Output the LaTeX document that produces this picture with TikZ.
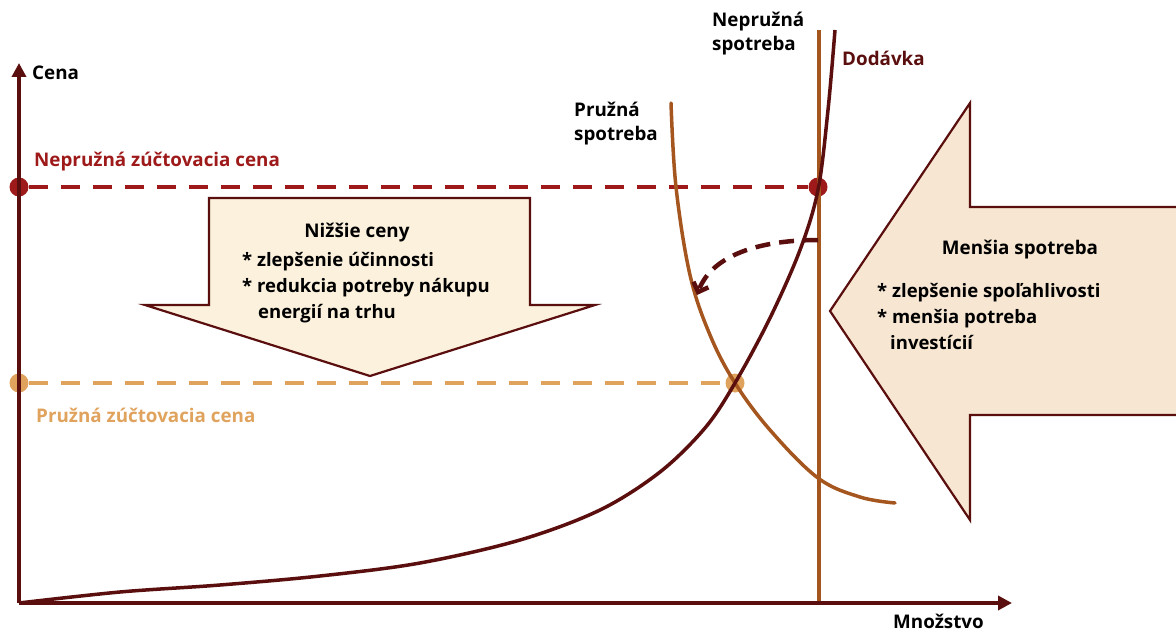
\documentclass[tikz,border=0pt]{standalone}
\usepackage{fontspec}
\setmainfont{Open Sans}
\usetikzlibrary{arrows.meta}
\definecolor{axiscol}{HTML}{5A0E0E}
\definecolor{redcol}{HTML}{9E1A1A}
\definecolor{lightor}{HTML}{E0A35E}
\definecolor{browncol}{HTML}{A5561E}
\definecolor{creamA}{HTML}{FBF1DC}
\definecolor{creamB}{HTML}{F6E6D2}
\tikzset{
  lbl/.style={font=\bfseries\fontsize{18.8}{24}\selectfont, inner sep=0pt},
  boxtxt/.style={font=\bfseries\fontsize{18.5}{26}\selectfont, inner sep=0pt, align=left},
  axisline/.style={draw=axiscol, line width=3.5pt, -{Triangle[length=14pt,width=14pt]}},
  dashline/.style={line width=4pt, dash pattern=on 19pt off 13pt},
  curve/.style={line width=3.5pt, line cap=round},
  dotnode/.style={circle, inner sep=0pt, minimum size=19pt},
  bigarrow/.style={draw=axiscol, line width=2.2pt, line join=miter}
}
\begin{document}
\begin{tikzpicture}[x=1pt,y=-1pt]
\useasboundingbox (0,0) rectangle (1176,634);
% big arrows
\draw[bigarrow, fill=creamA] (209,198) -- (530,198) -- (530,305) -- (595,305) -- (370,376) -- (145,305) -- (209,305) -- cycle;
\fill[creamB] (1180,207) -- (970,207) -- (970,103) -- (830,311) -- (970,520) -- (970,415) -- (1180,415) -- cycle;
\draw[bigarrow] (1180,207) -- (970,207) -- (970,103) -- (830,311) -- (970,520) -- (970,415) -- (1180,415);
% coordinates
\coordinate (O) at (19,603);
\coordinate (ytip) at (19,63);
\coordinate (xtip) at (1012,603);
% dashed lines
\node[dotnode, fill=redcol] (d1) at (19,187) {};
\node[dotnode, fill=redcol] (d2) at (818,187) {};
\node[dotnode, fill=lightor] (d3) at (19,383) {};
\node[dotnode, fill=lightor] (d4) at (735,383) {};
\draw[dashline, draw=redcol] (d1) -- (d2);
\draw[dashline, draw=lightor] (d3) -- (d4);
% vertical inelastic demand
\coordinate (vt) at (819,30);
\coordinate (vb) at (819,603);
\draw[curve, draw=browncol, line cap=butt] (vt) -- (vb);
% elastic demand
\draw[curve, draw=browncol] plot[smooth, tension=0.6] coordinates {(671,103) (676,187) (690,275) (710,335) (735,383) (770,430) (818,478) (860,497) (895,503)};
% supply
\draw[curve, draw=axiscol, line cap=butt] plot[smooth, tension=0.55] coordinates {(19,603) (120,592) (220,585) (320,576) (420,563) (520,540) (600,510) (660,472) (705,428) (735,383) (770,318) (800,250) (818,190) (828,110) (835,30)};
% dashed curved arrow
\coordinate (ca) at (818,240);
\coordinate (cb) at (697,295);
\draw[axiscol, line width=4.5pt, dash pattern=on 15pt off 9pt, -{Straight Barb[length=8pt,width=16pt]}] (ca) .. controls (760,240) and (712,255) .. (cb);
% axes
\draw[axisline] (O) -- (ytip);
\draw[axisline] (O) -- (xtip);
% labels
\node[lbl, anchor=west] (cena) at (32,73) {Cena};
\node[lbl, anchor=north west] (mn) at (893,614) {Množstvo};
\node[lbl, anchor=west, text=redcol] (nzc) at (34,162) {Nepružná zúčtovacia cena};
\node[lbl, anchor=west, text=lightor] (pzc) at (36,415) {Pružná zúčtovacia cena};
\node[lbl, anchor=west, align=left] (ns) at (712,34) {Nepružná\\spotreba};
\node[lbl, anchor=west, align=left] (ps) at (574,124) {Pružná\\spotreba};
\node[lbl, anchor=west, text=axiscol] (dod) at (842,58) {Dodávka};
\node[lbl] (nc) at (357,233) {Nižšie ceny};
\node[boxtxt, anchor=north west] (ncl) at (242,252) {* zlepšenie účinnosti\\* redukcia potreby nákupu\\\hspace*{16pt}energií na trhu};
\node[lbl] (ms) at (1020,250) {Menšia spotreba};
\node[boxtxt, anchor=north west] (msl) at (877,283) {* zlepšenie spoľahlivosti\\* menšia potreba\\\hspace*{13pt}investícií};
\end{tikzpicture}
\end{document}
